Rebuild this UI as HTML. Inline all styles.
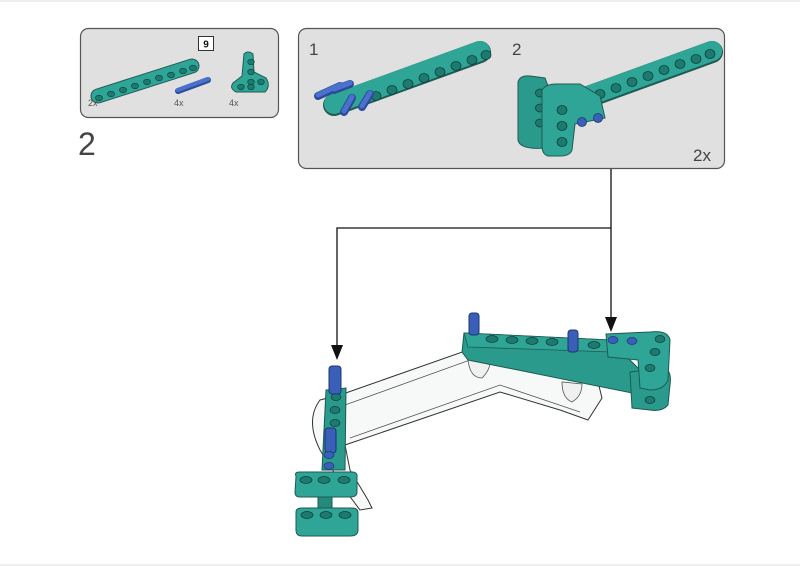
<!DOCTYPE html>
<html><head><meta charset="utf-8"><style>
html,body{margin:0;padding:0;background:#fff;}
svg{display:block;font-family:"Liberation Sans",sans-serif;}
</style></head><body>
<svg width="800" height="566" viewBox="0 0 800 566" xmlns="http://www.w3.org/2000/svg">
<rect x="0" y="0" width="800" height="2" fill="#eee"/>
<rect x="0" y="564" width="800" height="2" fill="#eee"/>

<!-- Panel 1 -->
<rect x="80.5" y="28.5" width="198" height="89" rx="8" fill="#e0e0e0" stroke="#555" stroke-width="1.2"/>
<g>
<line x1="98" y1="96" x2="192" y2="66" stroke="#1f5a52" stroke-width="15" stroke-linecap="round"/>
<line x1="98" y1="96" x2="192" y2="66" stroke="#2ea597" stroke-width="13" stroke-linecap="round"/>
<g fill="#1d7a6f" stroke="#0e3d38" stroke-width="0.6">
<ellipse cx="99" cy="98" rx="3.5" ry="2.8"/><ellipse cx="111" cy="94" rx="3.5" ry="2.8"/><ellipse cx="123" cy="90" rx="3.5" ry="2.8"/><ellipse cx="135" cy="86" rx="3.5" ry="2.8"/><ellipse cx="147" cy="82" rx="3.5" ry="2.8"/><ellipse cx="159" cy="78" rx="3.5" ry="2.8"/><ellipse cx="171" cy="75" rx="3.5" ry="2.8"/><ellipse cx="183" cy="71" rx="3.5" ry="2.8"/><ellipse cx="193" cy="68" rx="3.5" ry="2.8"/>
</g>
<rect x="198.5" y="36.5" width="15" height="14" fill="#fff" stroke="#333"/>
<text x="206" y="47.5" font-size="10" font-weight="bold" text-anchor="middle" fill="#111">9</text>
<line x1="178" y1="91" x2="208" y2="80" stroke="#2a4a9a" stroke-width="6" stroke-linecap="round"/>
<line x1="178" y1="90" x2="208" y2="79" stroke="#4a72cc" stroke-width="4" stroke-linecap="round"/>
<path d="M244,54 Q248,50 253,54 L254,72 L266,78 Q271,86 265,92 L236,92 Q229,88 233,83 L242,76 Z" fill="#2ea597" stroke="#1f5a52" stroke-width="1"/>
<g fill="#1d7a6f" stroke="#0e3d38" stroke-width="0.6">
<ellipse cx="251" cy="62" rx="3.3" ry="2.8"/><ellipse cx="251" cy="72" rx="3.3" ry="2.8"/><ellipse cx="251" cy="82" rx="3.3" ry="2.8"/><ellipse cx="261" cy="82" rx="3.3" ry="2.8"/><ellipse cx="241" cy="87" rx="3.3" ry="2.8"/><ellipse cx="251" cy="87" rx="3.3" ry="2.8"/>
</g>
<text x="88" y="106" font-size="9" fill="#555">2x</text>
<text x="174" y="106" font-size="9" fill="#555">4x</text>
<text x="229" y="106" font-size="9" fill="#555">4x</text>
</g>
<text x="78" y="155" font-size="32" fill="#444">2</text>

<!-- Panel 2 -->
<rect x="298.5" y="28.5" width="426" height="140" rx="8" fill="#e0e0e0" stroke="#555" stroke-width="1.2"/>
<text x="309" y="55" font-size="17" fill="#444">1</text>
<text x="512" y="55" font-size="17" fill="#444">2</text>
<text x="693" y="161" font-size="17" fill="#444">2x</text>
<!-- item 1 -->
<line x1="334" y1="105" x2="480" y2="52" stroke="#1f5a52" stroke-width="22" stroke-linecap="round"/>
<line x1="334" y1="104" x2="480" y2="51" stroke="#2ea597" stroke-width="20" stroke-linecap="round"/>
<g fill="#1d7a6f" stroke="#0e3d38" stroke-width="0.7">
<ellipse cx="376" cy="96" rx="5" ry="4.5"/><ellipse cx="392" cy="90" rx="5" ry="4.5"/><ellipse cx="408" cy="84" rx="5" ry="4.5"/><ellipse cx="424" cy="78" rx="5" ry="4.5"/><ellipse cx="440" cy="72" rx="5" ry="4.5"/><ellipse cx="456" cy="66" rx="5" ry="4.5"/><ellipse cx="472" cy="60" rx="5" ry="4.5"/><ellipse cx="486" cy="55" rx="5" ry="4.5"/>
</g>
<g stroke="#2a4a9a" stroke-width="8" stroke-linecap="round">
<line x1="318" y1="96" x2="340" y2="86"/><line x1="334" y1="90" x2="350" y2="84"/>
<line x1="344" y1="112" x2="352" y2="98"/><line x1="362" y1="107" x2="370" y2="94"/>
</g>
<g stroke="#4a72cc" stroke-width="5" stroke-linecap="round">
<line x1="318" y1="95" x2="340" y2="85"/><line x1="334" y1="89" x2="350" y2="83"/>
<line x1="344" y1="111" x2="352" y2="97"/><line x1="362" y1="106" x2="370" y2="93"/>
</g>
<!-- item 2 -->
<line x1="580" y1="100" x2="712" y2="52" stroke="#1f5a52" stroke-width="22" stroke-linecap="round"/>
<line x1="580" y1="99" x2="712" y2="51" stroke="#2ea597" stroke-width="20" stroke-linecap="round"/>
<g fill="#1d7a6f" stroke="#0e3d38" stroke-width="0.7">
<ellipse cx="600" cy="94" rx="5" ry="4.5"/><ellipse cx="616" cy="88" rx="5" ry="4.5"/><ellipse cx="632" cy="82" rx="5" ry="4.5"/><ellipse cx="648" cy="76" rx="5" ry="4.5"/><ellipse cx="664" cy="70" rx="5" ry="4.5"/><ellipse cx="680" cy="64" rx="5" ry="4.5"/><ellipse cx="696" cy="59" rx="5" ry="4.5"/><ellipse cx="710" cy="54" rx="5" ry="4.5"/>
</g>
<path d="M518,82 Q520,75 530,76 L545,78 L548,86 L568,85 L572,95 L560,100 L558,142 L545,148 Q520,150 518,140 Z" fill="#2a9a8c" stroke="#1f5a52" stroke-width="1"/>
<g fill="#1d7a6f" stroke="#0e3d38" stroke-width="0.7"><ellipse cx="540" cy="93" rx="4.5" ry="4"/><ellipse cx="540" cy="108" rx="4.5" ry="4"/><ellipse cx="540" cy="123" rx="4.5" ry="4"/></g>
<path d="M542,90 Q546,84 556,84 L580,84 L600,96 L605,118 L575,124 L572,150 Q570,156 560,156 L548,156 Q542,154 542,146 Z" fill="#2ea597" stroke="#1f5a52" stroke-width="1"/>
<g fill="#1d7a6f" stroke="#0e3d38" stroke-width="0.7"><ellipse cx="562" cy="110" rx="5" ry="4.5"/><ellipse cx="562" cy="126" rx="5" ry="4.5"/><ellipse cx="562" cy="142" rx="5" ry="4.5"/></g>
<g fill="#3a5fb8" stroke="#1e3670" stroke-width="0.8"><circle cx="582" cy="122" r="4.5"/><circle cx="598" cy="118" r="4.5"/></g>

<!-- connectors -->
<polyline points="611,169 611,228 337,228 337,346" fill="none" stroke="#111" stroke-width="1.3"/>
<line x1="611" y1="228" x2="611" y2="318" stroke="#111" stroke-width="1.3"/>
<path d="M331,345 L343,345 L337,360 Z" fill="#111"/>
<path d="M605,317 L617,317 L611,332 Z" fill="#111"/>

<!-- transparent frame -->
<path d="M340,395 L468,350 L560,372 L598,382 L602,398 L588,420 L560,410 L500,392 L345,445 L350,470 L368,500 L372,508 L360,510 L345,490 L320,450 Q305,420 320,400 Z" fill="#f7f9f9" stroke="#333" stroke-width="1"/>
<path d="M345,405 L470,360 M350,438 L500,385 L580,412" fill="none" stroke="#555" stroke-width="0.8"/>
<path d="M468,360 Q470,378 482,378 Q490,370 490,362 Z" fill="#f0f0f0" stroke="#555" stroke-width="0.8"/>
<path d="M562,382 Q562,398 572,402 Q582,396 582,384 Z" fill="#f0f0f0" stroke="#555" stroke-width="0.8"/>

<!-- main top beam -->
<path d="M464,333 L610,340 L642,372 L642,395 L468,360 L462,352 Z" fill="#2a9a8c" stroke="#1f5a52" stroke-width="1"/>
<path d="M464,333 L610,340 L612,352 L468,347 Z" fill="#2ea597" stroke="#1f5a52" stroke-width="0.8"/>
<g fill="#1d7a6f" stroke="#0e3d38" stroke-width="0.7">
<ellipse cx="492" cy="339" rx="6" ry="3.5"/><ellipse cx="512" cy="340" rx="6" ry="3.5"/><ellipse cx="532" cy="341" rx="6" ry="3.5"/><ellipse cx="552" cy="342" rx="6" ry="3.5"/><ellipse cx="594" cy="345" rx="6" ry="3.5"/>
</g>
<!-- right end pieces -->
<path d="M630,372 L665,368 Q672,372 670,385 L668,405 Q662,412 650,410 L632,408 Z" fill="#2a9a8c" stroke="#1f5a52" stroke-width="1"/>
<path d="M606,334 L650,332 Q668,330 670,340 L668,380 Q664,390 650,390 L640,388 L638,360 L608,357 Z" fill="#2ea597" stroke="#1f5a52" stroke-width="1"/>
<g fill="#1d7a6f" stroke="#0e3d38" stroke-width="0.7"><ellipse cx="660" cy="339" rx="5" ry="3.5"/><ellipse cx="655" cy="352" rx="5" ry="3.5"/><ellipse cx="650" cy="368" rx="5" ry="3.5"/><ellipse cx="650" cy="400" rx="5" ry="3.5"/></g>
<g fill="#3a5fb8" stroke="#1e3670" stroke-width="0.7"><ellipse cx="613" cy="340" rx="5" ry="3.5"/><ellipse cx="632" cy="341" rx="5" ry="3.5"/></g>
<!-- pins on top beam -->
<rect x="469" y="313" width="10" height="22" rx="3" fill="#3a5fb8" stroke="#1e3670"/>
<rect x="568" y="330" width="10" height="22" rx="3" fill="#3a5fb8" stroke="#1e3670"/>

<!-- left column -->
<path d="M326,390 L346,388 L345,470 L322,470 Z" fill="#2a9a8c" stroke="#1f5a52" stroke-width="1"/>
<g fill="#1d7a6f" stroke="#0e3d38" stroke-width="0.7"><ellipse cx="336" cy="397" rx="5" ry="3.5"/><ellipse cx="335" cy="410" rx="5" ry="3.5"/><ellipse cx="335" cy="423" rx="5" ry="3.5"/></g>
<rect x="329" y="366" width="12" height="28" rx="3" fill="#3a5fb8" stroke="#1e3670"/>
<rect x="325" y="428" width="11" height="25" rx="3" fill="#3a5fb8" stroke="#1e3670"/>
<g fill="#3a5fb8" stroke="#1e3670" stroke-width="0.7"><ellipse cx="329" cy="455" rx="5" ry="3.5"/><ellipse cx="329" cy="466" rx="5" ry="3.5"/></g>
<!-- bottom pieces -->
<path d="M296,476 Q294,472 300,472 L352,472 Q358,472 357,478 L357,492 Q357,497 350,497 L300,497 Q295,497 295,492 Z" fill="#2ea597" stroke="#1f5a52" stroke-width="1"/>
<g fill="#1d7a6f" stroke="#0e3d38" stroke-width="0.7"><ellipse cx="306" cy="480" rx="6" ry="3.5"/><ellipse cx="324" cy="480" rx="6" ry="3.5"/><ellipse cx="344" cy="480" rx="6" ry="3.5"/></g>
<rect x="318" y="497" width="14" height="12" fill="#248a7e" stroke="#1f5a52"/>
<path d="M296,512 Q296,508 302,508 L352,508 Q358,508 358,513 L358,530 Q358,536 350,536 L302,536 Q296,536 296,530 Z" fill="#2ea597" stroke="#1f5a52" stroke-width="1"/>
<g fill="#1d7a6f" stroke="#0e3d38" stroke-width="0.7"><ellipse cx="307" cy="515" rx="6" ry="3.5"/><ellipse cx="326" cy="515" rx="6" ry="3.5"/><ellipse cx="345" cy="515" rx="6" ry="3.5"/></g>
</svg>
</body></html>
